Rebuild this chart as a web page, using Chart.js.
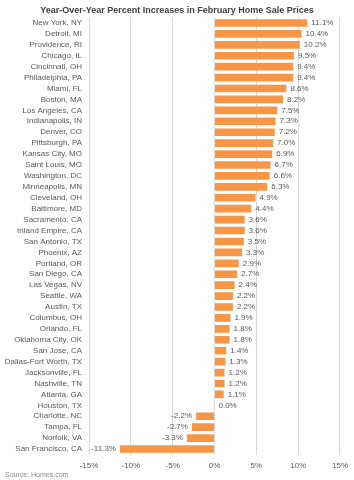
<!DOCTYPE html>
<html>
<head>
<meta charset="utf-8">
<script src="https://cdn.jsdelivr.net/npm/chart.js@4"></script>
<style>
body { margin: 0; background: #fff; }
#wrap { width: 354px; height: 480px; position: relative; }
</style>
</head>
<body>
<div id="wrap"><canvas id="priceChart"></canvas></div>
<script>
var cities = [
"New York, NY", "Detroit, MI", "Providence, RI", "Chicago, IL", "Cincinnati, OH",
"Philadelphia, PA", "Miami, FL", "Boston, MA", "Los Angeles, CA", "Indianapolis, IN",
"Denver, CO", "Pittsburgh, PA", "Kansas City, MO", "Saint Louis, MO", "Washington, DC",
"Minneapolis, MN", "Cleveland, OH", "Baltimore, MD", "Sacramento, CA", "Inland Empire, CA",
"San Antonio, TX", "Phoenix, AZ", "Portland, OR", "San Diego, CA", "Las Vegas, NV",
"Seattle, WA", "Austin, TX", "Columbus, OH", "Orlando, FL", "Oklahoma City, OK",
"San Jose, CA", "Dallas-Fort Worth, TX", "Jacksonville, FL", "Nashville, TN", "Atlanta, GA",
"Houston, TX", "Charlotte, NC", "Tampa, FL", "Norfolk, VA", "San Francisco, CA"
];
var increases = [
11.1, 10.4, 10.2, 9.5, 9.4,
9.4, 8.6, 8.2, 7.5, 7.3,
7.2, 7.0, 6.9, 6.7, 6.6,
6.3, 4.9, 4.4, 3.6, 3.6,
3.5, 3.3, 2.9, 2.7, 2.4,
2.2, 2.2, 1.9, 1.8, 1.8,
1.4, 1.3, 1.2, 1.2, 1.1,
0.0, -2.2, -2.7, -3.3, -11.3
];
var title_ = "Year-Over-Year Percent Increases in February Home Sale Prices";
var source_ = "Source: Homes.com";

var fontFam = "'Liberation Sans', Arial, sans-serif";

// values next to the bar ends, plus the title and source line
var barLabels = {
    id: "barLabels",
    afterDatasetsDraw: function(chart) {
        var ctx = chart.ctx;
        var meta = chart.getDatasetMeta(0);
        ctx.save();
        ctx.font = "8px " + fontFam;
        ctx.fillStyle = "#595959";
        ctx.textBaseline = "middle";
        meta.data.forEach(function(bar, i) {
            var v = increases[i];
            var txt = v.toFixed(1) + "%";
            if (v < 0) {
                ctx.textAlign = "right";
                ctx.fillText(txt, bar.x - 4, bar.y);
            } else {
                ctx.textAlign = "left";
                ctx.fillText(txt, bar.x + 4, bar.y);
            }
        });

        ctx.font = "bold 9px " + fontFam;
        ctx.fillStyle = "#404040";
        ctx.textAlign = "center";
        ctx.fillText(title_, 177, 10.5);

        ctx.font = "7px " + fontFam;
        ctx.fillStyle = "#8c8c8c";
        ctx.textAlign = "left";
        ctx.fillText(source_, 5, 475);
        ctx.restore();
    }
};

new Chart("priceChart", {
    type: "bar",
    data: {
        labels: cities,
        datasets: [{
            data: increases,
            backgroundColor: "#F79646",
            borderWidth: 0,
            barPercentage: 0.7,
            categoryPercentage: 1
        }]
    },
    options: {
        indexAxis: "y",
        responsive: true,
        maintainAspectRatio: false,
        animation: false,
        layout: { padding: { left: 0, right: 13, top: 17.5, bottom: 10 } },
        plugins: {
            legend: { display: false },
            tooltip: { enabled: false },
            title: { display: false }
        },
        scales: {
            x: {
                min: -15,
                max: 15,
                ticks: {
                    stepSize: 5,
                    color: "#595959",
                    font: { family: fontFam, size: 8 },
                    padding: 6,
                    callback: function(v) { return v + "%"; }
                },
                grid: { color: "#d9d9d9", drawTicks: false },
                border: { display: false },
                afterFit: function(scale) { scale.height = 15.5; }
            },
            y: {
                ticks: {
                    color: "#595959",
                    font: { family: fontFam, size: 8 },
                    padding: 7,
                    autoSkip: false
                },
                grid: { display: false, drawTicks: false },
                border: { display: false },
                afterFit: function(scale) { scale.width = 89; }
            }
        }
    },
    plugins: [barLabels]
});
</script>
</body>
</html>
